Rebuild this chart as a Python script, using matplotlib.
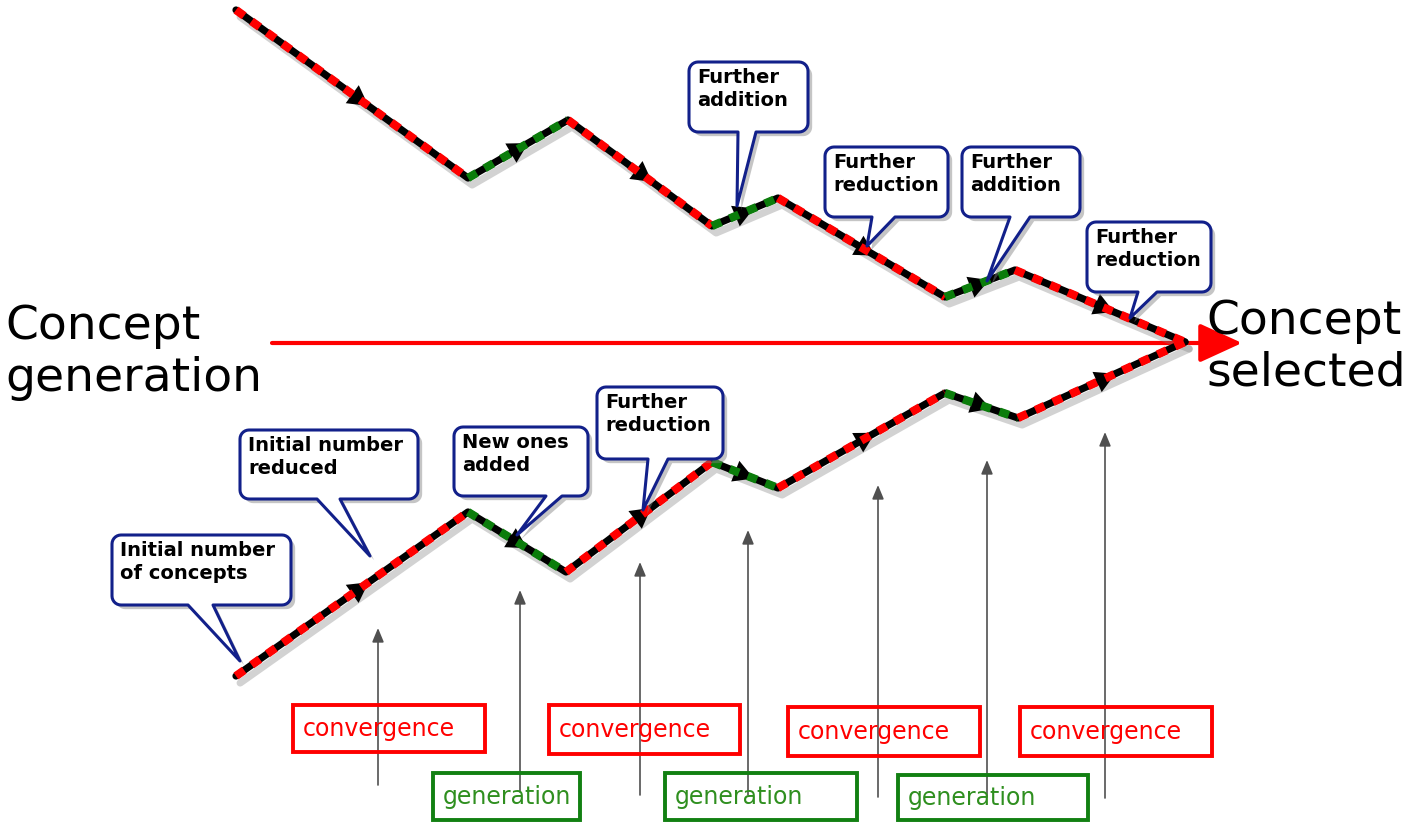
import matplotlib
matplotlib.use("Agg")
import matplotlib.pyplot as plt
import matplotlib.patheffects as pe
import numpy as np
from matplotlib.patches import Polygon, Rectangle

# ── diagram data (pixel space, y grows downward) ─────────────────────────────
top_x = [236, 468, 568, 712, 778, 945, 1015, 1185]
top_y = [10, 178, 120, 226, 198, 297, 270, 342]
bot_x = [236, 468, 566, 712, 778, 945, 1018, 1185]
bot_y = [676, 512, 572, 462, 488, 393, 418, 342]
seg_phase = ["conv", "gen", "conv", "gen", "conv", "gen", "conv"]

callout_labels = [
    "Further\naddition", "Further\nreduction", "Further\naddition",
    "Further\nreduction", "Initial number\nof concepts",
    "Initial number\nreduced", "New ones\nadded", "Further\nreduction",
]
# box (x0, y0, x1, y1), tail base (bx0, bx1), tip (tx, ty)
callout_boxes = [
    (689, 62, 808, 132), (825, 147, 948, 217), (962, 147, 1080, 217),
    (1087, 222, 1211, 292), (112, 535, 291, 605), (240, 430, 418, 499),
    (454, 427, 588, 496), (597, 387, 723, 459),
]
callout_tails = [
    (738, 756), (872, 895), (1010, 1030), (1138, 1157),
    (188, 213), (317, 340), (546, 562), (648, 668),
]
callout_tips = [
    (737, 206), (867, 246), (987, 281), (1130, 318),
    (240, 661), (370, 556), (517, 535), (643, 510),
]

# upward grey arrows: x, bottom, top
vert_x = [378, 520, 640, 748, 878, 987, 1105]
vert_bottom = [785, 792, 795, 795, 797, 797, 798]
vert_top = [628, 590, 562, 530, 485, 460, 432]

# phase boxes: label, x0, y0, x1, y1
phase_labels = ["convergence", "convergence", "convergence", "convergence",
                "generation", "generation", "generation"]
phase_boxes = [
    (293, 705, 485, 752), (549, 705, 740, 754), (788, 707, 980, 756),
    (1020, 707, 1212, 756),
    (433, 773, 580, 820), (665, 773, 857, 820), (898, 775, 1088, 820),
]

RED = "#ff0000"
GREEN = "#0b7d0b"
NAVY = "#12208a"
PHASE_COLOR = {"conv": RED, "gen": GREEN}
PHASE_TEXT = {"convergence": RED, "generation": "#2f8f1f"}
PHASE_EDGE = {"convergence": RED, "generation": "#128012"}

fig = plt.figure(figsize=(14.1, 8.22), dpi=100)
ax = fig.add_axes([0, 0, 1, 1])
ax.set_xlim(0, 1410)
ax.set_ylim(822, 0)
ax.axis("off")

# main red arrow
ax.annotate("", xy=(1242, 343), xytext=(272, 343),
            arrowprops=dict(arrowstyle="-|>,head_length=1.2,head_width=0.55",
                            color=RED, lw=3, mutation_scale=22,
                            shrinkA=0, shrinkB=0), zorder=1)

ax.text(5, 352, "Concept\ngeneration", fontsize=34, va="center", ha="left",
        linespacing=1.2, color="black")
ax.text(1206, 347, "Concept\nselected", fontsize=34, va="center", ha="left",
        linespacing=1.2, color="black")


def draw_path(xs, ys):
    shadow = [pe.SimpleLineShadow(offset=(3, -5), shadow_color="gray",
                                  alpha=0.35), pe.Normal()]
    ax.plot(xs, ys, color="black", lw=5.2, solid_capstyle="round",
            solid_joinstyle="round", zorder=2, path_effects=shadow)
    for i, phase in enumerate(seg_phase):
        x0, x1 = xs[i], xs[i + 1]
        y0, y1 = ys[i], ys[i + 1]
        # arrowhead on the black line
        d = np.array([x1 - x0, y1 - y0], dtype=float)
        d /= np.hypot(*d)
        m = np.array([x0 + 0.55 * (x1 - x0), y0 + 0.55 * (y1 - y0)])
        ax.annotate("", xy=m + 6 * d, xytext=m - 6 * d,
                    arrowprops=dict(arrowstyle="-|>,head_length=0.9,head_width=0.5",
                                    color="black", lw=0, mutation_scale=16,
                                    shrinkA=0, shrinkB=0), zorder=3)
        ax.plot([x0, x1], [y0, y1], color=PHASE_COLOR[phase], lw=6,
                linestyle=(0, (1.2, 1.1)), dash_capstyle="butt", zorder=4)


draw_path(top_x, top_y)
draw_path(bot_x, bot_y)


def callout_polygon(box, tail, tip, r=9):
    x0, y0, x1, y1 = box
    pts = []
    def arc(cx, cy, a0, a1):
        t = np.linspace(a0, a1, 8)
        return list(zip(cx + r * np.cos(t), cy + r * np.sin(t)))
    pts += arc(x1 - r, y0 + r, -np.pi / 2, 0)
    pts += arc(x1 - r, y1 - r, 0, np.pi / 2)
    pts += [(tail[1], y1), tip, (tail[0], y1)]
    pts += arc(x0 + r, y1 - r, np.pi / 2, np.pi)
    pts += arc(x0 + r, y0 + r, np.pi, 1.5 * np.pi)
    return pts


for label, box, tail, tip in zip(callout_labels, callout_boxes,
                                 callout_tails, callout_tips):
    poly = Polygon(callout_polygon(box, tail, tip), closed=True,
                   facecolor="white", edgecolor=NAVY, lw=2.2, zorder=5,
                   joinstyle="round")
    poly.set_path_effects([pe.SimplePatchShadow(offset=(3, -3),
                                                shadow_rgbFace="gray",
                                                alpha=0.45), pe.Normal()])
    ax.add_patch(poly)
    ax.text(box[0] + 8, box[1] + 6, label, fontsize=14, fontweight="bold",
            va="top", ha="left", linespacing=1.25, color="black", zorder=6)

# thin grey arrows pointing up at the path
for x, yb, yt in zip(vert_x, vert_bottom, vert_top):
    ax.annotate("", xy=(x, yt), xytext=(x, yb),
                arrowprops=dict(arrowstyle="-|>,head_length=0.6,head_width=0.25",
                                color="#505050", lw=1.2, mutation_scale=14,
                                shrinkA=0, shrinkB=0), zorder=1)

for label, (x0, y0, x1, y1) in zip(phase_labels, phase_boxes):
    ax.add_patch(Rectangle((x0, y0), x1 - x0, y1 - y0, fill=False,
                           edgecolor=PHASE_EDGE[label], lw=2.8, zorder=2))
    ax.text(x0 + 10, (y0 + y1) / 2, label, fontsize=17, va="center",
            ha="left", color=PHASE_TEXT[label], zorder=3)

fig.savefig("out.png", dpi=100)
